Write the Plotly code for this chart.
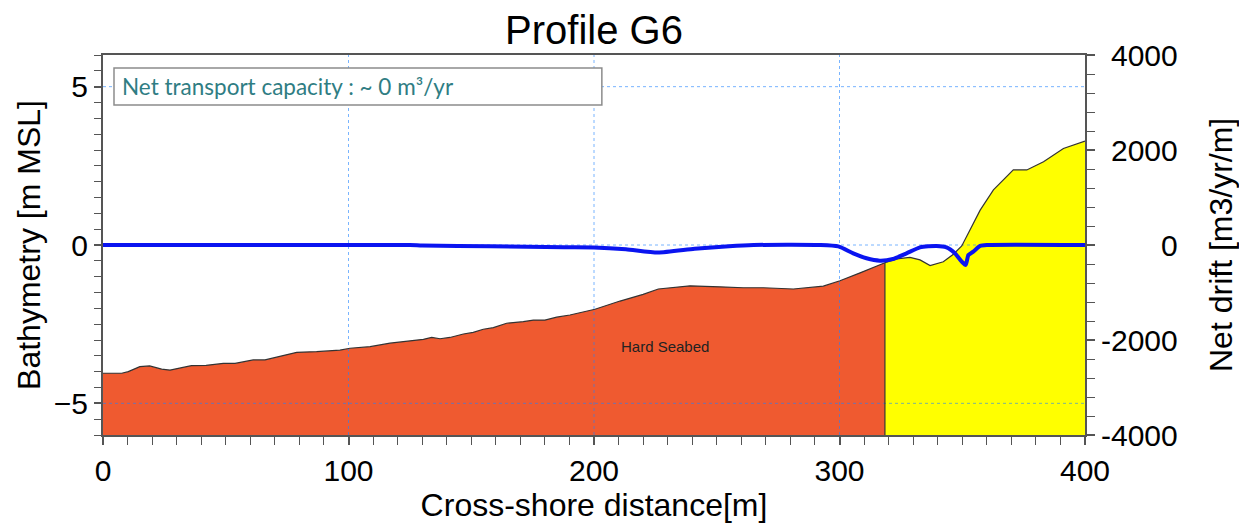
import plotly.graph_objects as go

# ---------------- data ----------------
PROFILE_X = [0, 7.6, 10.3, 15, 19, 23.9, 27.3, 30.7, 36, 42, 49, 53.8, 61.2, 66, 73.4,
             78.9, 87, 96.5, 100.6, 108.8, 116.9, 125, 130.5, 133.9, 137.3, 141.3, 146.8,
             150.8, 154.9, 159, 164.4, 171.2, 175.3, 180, 184.8, 190.2, 200.4, 210.6,
             220, 226.2, 239.1, 251.3, 260.8, 269, 281.2, 293.4, 300.2, 308.4, 318.5,
             323.3, 328.7, 332.8, 336.9, 342.3, 346.4, 349.8, 353.2, 357.3, 362.7,
             370.8, 376.3, 383.1, 391.2, 400]
PROFILE_Z = [-4.05, -4.05, -4.0, -3.84, -3.82, -3.92, -3.95, -3.9, -3.81, -3.8, -3.74,
             -3.74, -3.63, -3.63, -3.5, -3.39, -3.37, -3.32, -3.26, -3.21, -3.1, -3.02,
             -2.98, -2.92, -2.96, -2.92, -2.81, -2.76, -2.66, -2.61, -2.47, -2.42, -2.37,
             -2.37, -2.28, -2.21, -2.03, -1.77, -1.56, -1.39, -1.29, -1.32, -1.35, -1.35,
             -1.39, -1.30, -1.13, -0.88, -0.56, -0.44, -0.39, -0.47, -0.65, -0.53, -0.29,
             -0.03, 0.47, 1.1, 1.74, 2.37, 2.37, 2.63, 3.05, 3.28]
HARD_END_X = 318.5

DRIFT_X = [0, 125, 130, 158, 188, 200, 213, 226, 241, 255, 265, 292, 299.5, 305.6, 311,
           316.4, 321.8, 327.3, 332.8, 339.5, 343.6, 347, 349.8, 351.4, 352.5, 354.5,
           357.3, 360, 400]
DRIFT_V = [0, 0, -10, -25, -45, -50, -90, -160, -80, -25, 0, 0, -30, -175, -280, -330,
           -295, -175, -50, -20, -50, -175, -350, -420, -210, -140, -20, 0, 0]

X_TICKS = [0, 100, 200, 300, 400]
Y_TICKS = [-5, 0, 5]
Y2_TICKS = [-4000, -2000, 0, 2000, 4000]
GRID_X = [100, 200, 300]
GRID_Y = [-5, 0, 5]
X_RANGE = [0, 400]
Y_RANGE = [-6, 6]
Y2_RANGE = [-4000, 4000]

TITLE = "Profile G6"
X_TITLE = "Cross-shore distance[m]"
Y_TITLE = "Bathymetry [m MSL]"
Y2_TITLE = "Net drift [m3/yr/m]"
INFO_TEXT = "Net transport capacity : ~ 0 m³/yr"
HARD_LABEL = "Hard Seabed"

# ---------------- styling ----------------
FONT = "Liberation Sans, Arial, sans-serif"
ORANGE = "#EF5A30"
YELLOW = "#FFFF00"
AX = "#555555"
GRID = "rgba(30,130,255,0.6)"
W, H = 1239, 520  # page body adds an 8px margin

bottom = Y_RANGE[0]
z_end = PROFILE_Z[PROFILE_X.index(HARD_END_X)]

hard_x = [x for x in PROFILE_X if x <= HARD_END_X]
hard_z = [z for x, z in zip(PROFILE_X, PROFILE_Z) if x <= HARD_END_X]
sand_x = [x for x in PROFILE_X if x >= HARD_END_X]
sand_z = [z for x, z in zip(PROFILE_X, PROFILE_Z) if x >= HARD_END_X]

fig = go.Figure()
fig.add_trace(go.Scatter(x=hard_x + [HARD_END_X, X_RANGE[0]], y=hard_z + [bottom, bottom],
                         fill="toself", fillcolor=ORANGE, mode="lines",
                         line=dict(width=0), hoverinfo="skip", showlegend=False))
fig.add_trace(go.Scatter(x=sand_x + [X_RANGE[1], HARD_END_X], y=sand_z + [bottom, bottom],
                         fill="toself", fillcolor=YELLOW, mode="lines",
                         line=dict(width=0), hoverinfo="skip", showlegend=False))
# grid lines drawn above the fills
for gx in GRID_X:
    fig.add_trace(go.Scatter(x=[gx, gx], y=Y_RANGE, mode="lines",
                             line=dict(color=GRID, width=1, dash="dot"),
                             hoverinfo="skip", showlegend=False))
for gy in GRID_Y:
    fig.add_trace(go.Scatter(x=X_RANGE, y=[gy, gy], mode="lines",
                             line=dict(color=GRID, width=1, dash="dot"),
                             hoverinfo="skip", showlegend=False))
# profile outline and divider
fig.add_trace(go.Scatter(x=PROFILE_X, y=PROFILE_Z, mode="lines",
                         line=dict(color="#333333", width=1.2), showlegend=False))
fig.add_trace(go.Scatter(x=[HARD_END_X, HARD_END_X], y=[bottom, z_end], mode="lines",
                         line=dict(color="#333333", width=1.2), hoverinfo="skip",
                         showlegend=False))
# net drift
fig.add_trace(go.Scatter(x=DRIFT_X, y=DRIFT_V, yaxis="y2", mode="lines",
                         line=dict(color="#0A14F0", width=4, shape="spline", smoothing=0.6),
                         showlegend=False))

tick_common = dict(ticks="outside", tickcolor=AX, tickwidth=1.5, showline=True,
                   linecolor=AX, linewidth=2, showgrid=False, zeroline=False,
                   automargin=False, tickfont=dict(family=FONT, size=30, color="black"))

fig.update_layout(
    width=W, height=H,
    margin=dict(l=95, r=162, t=47, b=93),
    paper_bgcolor="white", plot_bgcolor="white",
    font=dict(family=FONT, color="black"),
    title=dict(text=TITLE, x=0.5, xref="paper", xanchor="center",
               y=1 - 22 / H, yref="container", yanchor="middle",
               font=dict(family=FONT, size=40, color="black")),
    xaxis=dict(range=X_RANGE, tickvals=X_TICKS, ticklen=8, mirror=True,
               minor=dict(tick0=0, dtick=10, ticks="outside", ticklen=8,
                          tickcolor=AX, tickwidth=1, showgrid=False),
               title=dict(text=X_TITLE, font=dict(family=FONT, size=32), standoff=8),
               **tick_common),
    yaxis=dict(range=Y_RANGE, tickvals=Y_TICKS, ticklen=7,
               minor=dict(tick0=0, dtick=0.5, ticks="outside", ticklen=7,
                          tickcolor=AX, tickwidth=1, showgrid=False),
               title=dict(text=Y_TITLE, font=dict(family=FONT, size=32), standoff=4),
               **tick_common),
    yaxis2=dict(range=Y2_RANGE, tickvals=Y2_TICKS, ticklen=8, overlaying="y",
                side="right", showticklabels=False,
                minor=dict(tick0=0, dtick=400, ticks="outside", ticklen=8,
                           tickcolor=AX, tickwidth=1, showgrid=False),
                **{k: v for k, v in tick_common.items() if k != "tickfont"}),
)

# info box
fig.add_shape(type="rect", xref="paper", yref="paper", x0=0.0112, x1=0.508,
              y0=0.8684, y1=0.9658, line=dict(color="#8C8C8C", width=1.5),
              fillcolor="white", layer="above")
fig.add_annotation(text=INFO_TEXT, xref="paper", yref="paper", x=0.0175, y=0.9158,
                   xanchor="left", yanchor="middle", showarrow=False,
                   font=dict(family="Lato, Carlito, sans-serif", size=22.5, color="#2F7D83"))
# layer label
fig.add_annotation(text=HARD_LABEL, x=228.8, y=-3.22, xref="x", yref="y",
                   showarrow=False, font=dict(family=FONT, size=15, color="#222222"))
# right axis tick labels (right-aligned as in the reference)
for v in Y2_TICKS:
    fig.add_annotation(text=str(v), xref="paper", yref="y2", x=(1180 - 103) / 982, y=v,
                       xanchor="right", yanchor="middle", showarrow=False,
                       font=dict(family=FONT, size=30, color="black"))
fig.add_annotation(text=Y2_TITLE, xref="paper", yref="paper", x=(1221 - 103) / 982, y=0.5,
                   xanchor="center", yanchor="middle", textangle=-90, showarrow=False,
                   font=dict(family=FONT, size=32, color="black"))

fig.write_html("out.html")
